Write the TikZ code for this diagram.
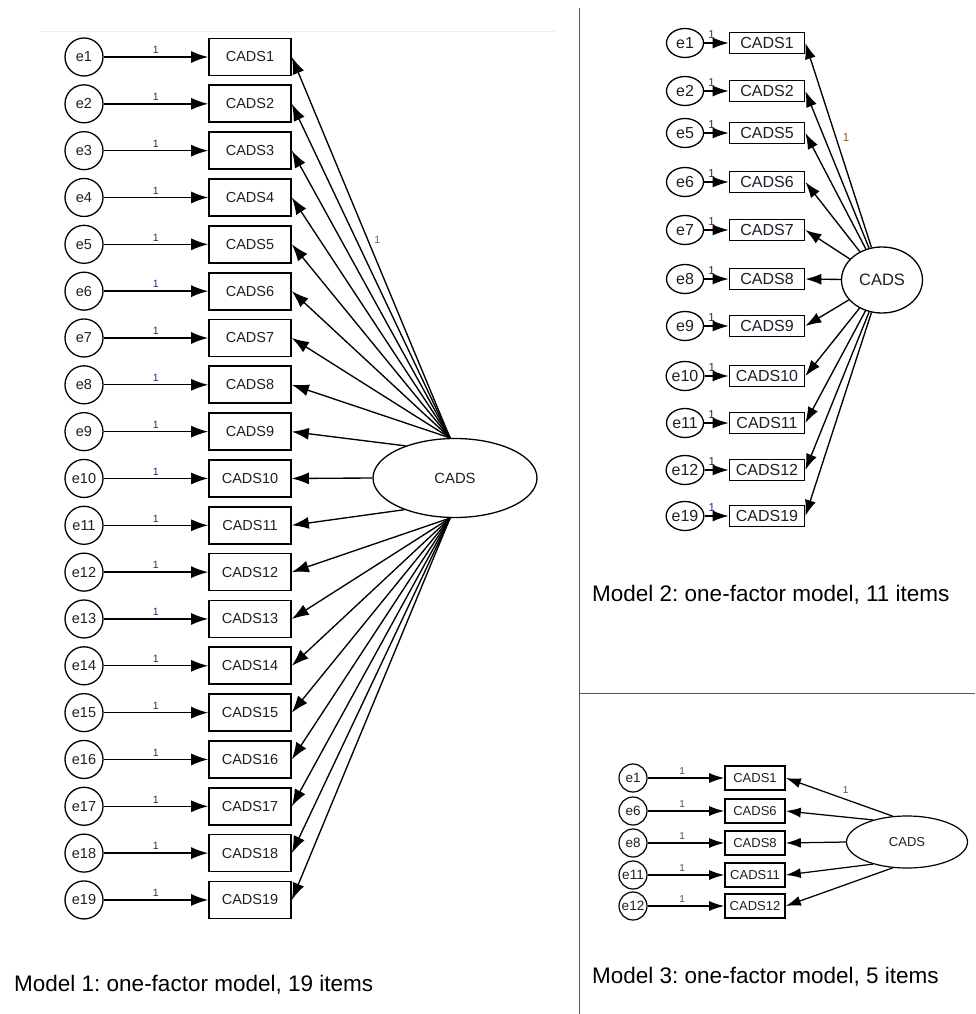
\documentclass[tikz,border=0pt]{standalone}
\usepackage{fontspec}
\setmainfont{Liberation Sans}
\usetikzlibrary{shapes.geometric,arrows.meta}
\definecolor{txt}{HTML}{1E1E28}
\definecolor{oneblue}{HTML}{1F2F5F}
\definecolor{onered}{HTML}{7A2048}
\definecolor{onebrown}{HTML}{8A5A2A}
\definecolor{divider}{HTML}{555555}
\frenchspacing
\tikzset{
  fs/.style={font=\fontsize{#1}{#1}\selectfont},
  base/.style={text=txt, inner sep=0pt},
  % model 1
  m1err/.style={base, draw, circle, line width=1.3pt, minimum size=38pt, fs=14.5},
  m1box/.style={base, draw, line width=1.7pt, minimum width=82pt, minimum height=37pt, fs=14.5},
  m1fac/.style={base, draw, ellipse, line width=1.3pt, minimum width=164pt, minimum height=79pt, fs=14.8},
  m1arr/.style={line width=1.35pt, -{Latex[length=17pt,width=12pt]}},
  m1one/.style={fs=10.5, text=oneblue, inner sep=1pt},
  % model 2
  m2err/.style={base, draw, ellipse, line width=1.3pt, minimum width=37pt, minimum height=29pt, fs=16},
  m2box/.style={base, draw, line width=1.7pt, minimum width=75pt, minimum height=21pt, fs=16},
  m2fac/.style={base, draw, ellipse, line width=1.3pt, minimum width=81pt, minimum height=66pt, fs=16.5},
  m2arr/.style={line width=1.35pt, -{Latex[length=16pt,width=11pt]}},
  m2one/.style={fs=11.5, inner sep=1pt},
  % model 3
  m3err/.style={base, draw, circle, line width=1.2pt, minimum size=28pt, fs=13.5},
  m3box/.style={base, draw, line width=1.6pt, minimum width=60pt, minimum height=24pt, fs=13},
  m3fac/.style={base, draw, ellipse, line width=1.2pt, minimum width=121pt, minimum height=52pt, fs=13},
  m3arr/.style={line width=1.25pt, -{Latex[length=15pt,width=10pt]}},
  m3one/.style={fs=10, text=txt!80, inner sep=1pt},
  caption/.style={anchor=base west, inner sep=0pt, fs=22.5, text=black},
}
\begin{document}
\begin{tikzpicture}[x=1pt,y=-1pt]
\useasboundingbox (0,0) rectangle (975,1014);
% frame lines
\draw[black!7, line width=0.6pt] (40,31) -- (555,31);
\draw[divider, line width=1pt] (579,8) -- (579,1014);
\draw[divider, line width=1pt] (579,693) -- (975,693);

% ---------------- Model 1 ----------------
\node[m1fac] (F1) at (455,478) {CADS};
\foreach \i in {1,...,19} {
  \pgfmathsetmacro\yy{57+(\i-1)*46.83}
  \node[m1err] (m1e\i) at (84,\yy) {e\i};
  \node[m1box] (m1b\i) at (250,\yy) {CADS\i};
  \draw[m1arr] (m1e\i) -- node[above=1.5pt, m1one]{1} (m1b\i);
}
\draw[m1arr] (F1.97) -- node[pos=0.52, anchor=west, m1one, text=onebrown, xshift=5pt]{1} (m1b1.east);
\foreach \i in {2,...,8} { \draw[m1arr] (F1.97) -- (m1b\i.east); }
\draw[m1arr] (F1.147) -- (m1b9.east);
\draw[m1arr] (F1.west) -- (m1b10.east);
\draw[m1arr] (F1.212) -- (m1b11.east);
\foreach \i in {12,...,19} { \draw[m1arr] (F1.263) -- (m1b\i.east); }
\node[caption] (cap1) at (14,991) {Model 1: one-factor model, 19 items};

% ---------------- Model 2 ----------------
\node[m2fac] (F2) at (882,280) {CADS};
\foreach \i/\yy/\c in {1/43/onered, 2/91/onered, 5/133/oneblue, 6/182/oneblue, 7/230/onered, 8/279/oneblue, 9/326/oneblue, 10/376/oneblue, 11/423/oneblue, 12/470/oneblue, 19/516/oneblue} {
  \node[m2err] (m2e\i) at (685,\yy) {e\i};
  \node[m2box] (m2b\i) at (767,\yy) {CADS\i};
  \draw[m2arr] (m2e\i) -- node[pos=0.3, above=2.5pt, m2one, text=\c]{1} (m2b\i);
  \draw[m2arr] (F2) -- (m2b\i.east);
}
\path (F2) -- node[pos=0.54, anchor=west, m2one, text=onebrown, xshift=6pt]{1} (m2b1.east);
\node[caption] (cap2) at (592,601) {Model 2: one-factor model, 11 items};

% ---------------- Model 3 ----------------
\node[m3fac] (F3) at (907,842) {CADS};
\foreach \i/\yy in {1/778, 6/811, 8/843, 11/875, 12/906} {
  \node[m3err] (m3e\i) at (633,\yy) {e\i};
  \node[m3box] (m3b\i) at (755,\yy) {CADS\i};
  \draw[m3arr] (m3e\i) -- node[pos=0.45, above=2pt, m3one]{1} (m3b\i);
}
\draw[m3arr] (F3.119) -- node[pos=0.44, above=4pt, m3one]{1} (m3b1.east);
\draw[m3arr] (F3.147) -- (m3b6.east);
\draw[m3arr] (F3.west) -- (m3b8.east);
\draw[m3arr] (F3.213) -- (m3b11.east);
\draw[m3arr] (F3.241) -- (m3b12.east);
\node[caption] (cap3) at (592,983) {Model 3: one-factor model, 5 items};
\end{tikzpicture}
\end{document}
